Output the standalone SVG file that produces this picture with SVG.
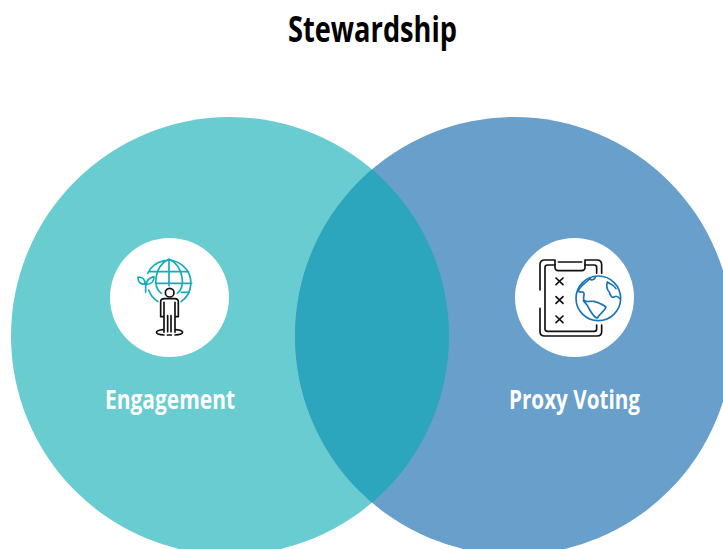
<svg xmlns="http://www.w3.org/2000/svg" width="723" height="549" viewBox="0 0 723 549">
<style>
text{font-family:"Open Sans","Noto Sans","Liberation Sans",sans-serif;font-weight:700}
.lab{fill:#fff;font-size:27px}
.t{fill:none;stroke:#12adb5;stroke-width:5;stroke-linecap:round;stroke-linejoin:round}
.k{fill:none;stroke:#111;stroke-width:5;stroke-linecap:round;stroke-linejoin:round}
.b{fill:none;stroke:#1874b4;stroke-width:5;stroke-linejoin:round;stroke-linecap:round}
</style>
<defs><clipPath id="lc"><circle cx="230" cy="336" r="219"/></clipPath></defs>
<rect width="723" height="549" fill="#fff"/>
<text x="288" y="42" font-size="35" fill="#000" textLength="169" lengthAdjust="spacingAndGlyphs">Stewardship</text>
<g id="engagement">
<circle cx="230" cy="336" r="219" fill="#68ccd1"/>
</g>
<g id="proxy-voting">
<circle cx="514" cy="336" r="219" fill="#689fcb"/>
</g>
<g id="overlap">
<circle cx="514" cy="336" r="219" fill="#2ba6bd" clip-path="url(#lc)"/>
</g>
<g id="engagement-icon">
<circle cx="169.500" cy="297.500" r="59.500" fill="#fff"/>
<g transform="translate(134 255) scale(.3333)">
<path class="t" d="M41 55A68 68 0 1 1 141 140M72 140A68 68 0 0 1 44 105"/>
<path class="t" d="M105 12V92M105 12C60 35 55 95 82 115M105 12C150 35 155 95 130 115M48 50H163M68 85H173M142 112H165"/>
<path class="t" d="M33 88C34 72 25 66 12 66C11 80 18 88 33 88ZM37 88C38 74 46 68 60 65C60 78 52 88 37 88ZM35 88V112"/>
<circle class="k" cx="107" cy="113" r="13"/>
<path class="k" d="M92 131H122Q133 131 133 140V185M80 185V140Q80 131 92 131M80 185H90M123 185H133M90 142V232M123 142V232M101 182V230M111 182V230"/>
<path class="k" d="M88 224C60 226 60 238 90 240M125 224C153 226 153 238 123 240M100 240H112"/>
</g>
</g>
<g id="proxy-icon">
<circle cx="574.500" cy="297.500" r="59.500" fill="#fff"/>
<g transform="translate(505 230) scale(.3333)">
<path class="k" d="M105 180V104Q105 90 119 90H150M240 90H276Q290 90 290 104V130M105 235V305Q105 318 119 318H276Q290 318 290 305V285"/>
<path class="k" d="M120 292V112Q120 105 128 105H150M240 105H268Q275 105 275 112V130M120 292V296Q120 304 128 304H268Q275 304 275 296V285"/>
<path class="k" d="M150 92V112Q150 122 160 122H230Q240 122 240 112V92M160 96H230"/>
<path class="k" d="M153 144L174 164M174 144L153 164M153 200L174 220M174 200L153 220M153 258L174 278M174 258L153 278"/>
</g>
<g transform="translate(570 268) scale(.3333)">
<circle class="b" cx="85" cy="91" r="67"/>
<path class="b" d="M60 32C50 42 30 54 25 68C30 78 38 66 42 76C44 84 36 92 44 98C50 104 62 98 72 100C86 104 100 108 108 118C104 130 90 136 82 150C72 150 62 130 56 120C52 108 44 104 40 98"/>
<path class="b" d="M60 32C64 38 72 36 76 28"/>
<path class="b" d="M112 42C108 56 112 66 118 72C120 84 128 92 134 86C140 82 146 88 150 92M112 42C122 50 130 48 138 62"/>
</g>
</g>
<text class="lab" x="105" y="409" textLength="130" lengthAdjust="spacingAndGlyphs">Engagement</text>
<text class="lab" x="509" y="409" textLength="131" lengthAdjust="spacingAndGlyphs">Proxy Voting</text>
</svg>
